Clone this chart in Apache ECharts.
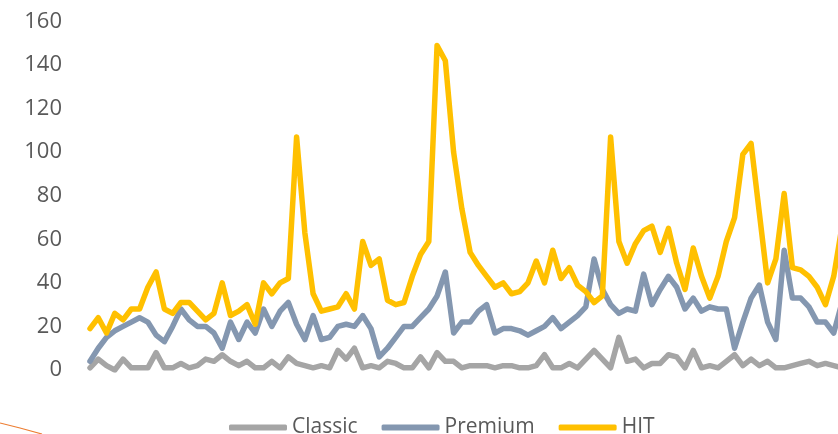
<!DOCTYPE html>
<html>
<head>
<meta charset="utf-8">
<script src="https://cdn.jsdelivr.net/npm/echarts@6/dist/echarts.min.js"></script>
<style>
html,body{margin:0;padding:0;background:#fff;overflow:hidden;width:838px;height:434px;}
#chart{width:842px;height:434px;}
</style>
</head>
<body>
<div id="chart"></div>
<script>
const seriesNames = ['Classic', 'Premium', 'HIT'];
const yTicks = [0, 20, 40, 60, 80, 100, 120, 140, 160];

const classic = [1,5,2,0,5,1,1,1,8,1,1,3,1,2,5,4,7,4,2,4,1,1,4,1,6,3,2,1,2,1,9,5,10,1,2,1,4,3,1,1,6,1,8,4,4,1,2,2,2,1,2,2,1,1,2,7,1,1,3,1,5,9,5,1,15,4,5,1,3,3,7,6,1,9,1,2,1,4,7,2,5,2,4,1,1,2,3,4,2,3,2,1];
const premium = [4,10,15,18,20,22,24,22,16,13,20,28,23,20,20,17,10,22,14,22,17,28,20,27,31,21,14,25,14,15,20,21,20,25,19,6,10,15,20,20,24,28,34,45,17,22,22,27,30,17,19,19,18,16,18,20,24,19,22,25,29,51,37,30,26,28,27,44,30,37,43,38,28,33,27,29,28,28,10,22,33,39,22,14,55,33,33,29,22,22,17,31];
const hit = [19,24,17,26,23,28,28,38,45,28,26,31,31,27,23,26,40,25,27,30,21,40,35,40,42,107,63,35,27,28,29,35,28,59,48,51,32,30,31,43,53,59,149,142,100,74,54,48,43,38,40,35,36,40,50,40,55,42,47,39,36,31,34,107,59,49,58,64,66,54,65,49,37,56,43,33,43,59,70,99,104,72,40,51,81,47,46,43,38,30,43,66];
const categories = hit.map((_, i) => String(i + 1));

const colors = ['#A5A5A5', '#8497B0', '#FFC000'];
const chart = echarts.init(document.getElementById('chart'), null, {renderer: 'canvas'});

function lineSeries(name, data, color) {
  return {
    name: name,
    type: 'line',
    data: data,
    showSymbol: false,
    symbol: 'none',
    smooth: false,
    lineStyle: {color: color, width: 5.5, join: 'round', cap: 'round'},
    itemStyle: {color: color},
    emphasis: {disabled: true},
    animation: false
  };
}

chart.setOption({
  animation: false,
  grid: {left: 90, right: 0, top: 21.5, bottom: 64, containLabel: false},
  xAxis: {
    type: 'category',
    data: categories,
    boundaryGap: false,
    axisLine: {show: false},
    axisTick: {show: false},
    axisLabel: {show: false},
    splitLine: {show: false}
  },
  yAxis: {
    type: 'value',
    min: yTicks[0],
    max: yTicks[yTicks.length - 1],
    interval: 20,
    axisLine: {show: false},
    axisTick: {show: false},
    splitLine: {show: false},
    axisLabel: {
      margin: 28,
      color: '#595959',
      fontFamily: 'Open Sans',
      fontSize: 22
    }
  },
  legend: {
    left: 224,
    top: 412,
    itemWidth: 58,
    itemHeight: 6,
    itemGap: 24,
    icon: 'roundRect',
    textStyle: {color: '#595959', fontFamily: 'Open Sans', fontSize: 21},
    data: seriesNames
  },
  graphic: [{
    type: 'polyline',
    shape: {points: [[0, 423], [20, 428], [42, 434]]},
    style: {stroke: '#ED7D31', lineWidth: 1.2, fill: null},
    silent: true
  }],
  series: [
    lineSeries(seriesNames[0], classic, colors[0]),
    lineSeries(seriesNames[1], premium, colors[1]),
    lineSeries(seriesNames[2], hit, colors[2])
  ]
});
</script>
</body>
</html>
